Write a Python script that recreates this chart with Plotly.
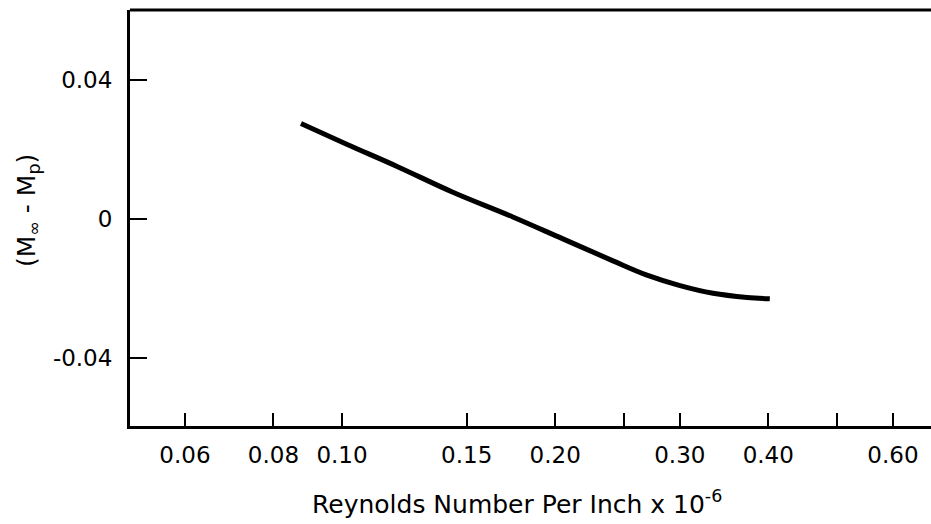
import plotly.graph_objects as go

# Data
re_per_inch = [0.0875, 0.1017, 0.1196, 0.1434, 0.1743, 0.2051, 0.2414, 0.2696, 0.3002, 0.3342, 0.3733, 0.402]
dmach = [0.0274, 0.0214, 0.0151, 0.0077, 0.0006, -0.0057, -0.0120, -0.0161, -0.0191, -0.0213, -0.0225, -0.0229]

x_tickvals = [0.06, 0.08, 0.10, 0.15, 0.20, 0.30, 0.40, 0.60]
x_ticktext = ["0.06", "0.08", "0.10", "0.15", "0.20", "0.30", "0.40", "0.60"]
x_unlabeled_ticks = [0.25, 0.50]
y_tickvals = [0.04, 0.0, -0.04]
y_ticktext = ["0.04", "0", "-0.04"]

FONT = "DejaVu Sans, Liberation Sans, sans-serif"

fig = go.Figure()
fig.add_trace(go.Scatter(
    x=re_per_inch, y=dmach, mode="lines",
    line=dict(color="black", width=5, shape="spline", smoothing=1.0),
    showlegend=False, hoverinfo="skip",
))

fig.update_layout(
    width=931, height=524,
    margin=dict(l=130, r=0, t=10, b=98),
    paper_bgcolor="white", plot_bgcolor="white",
    font=dict(family=FONT, color="black", size=22),
    xaxis=dict(
        type="log", range=[-1.2995, -0.1681],
        tickmode="array", tickvals=x_tickvals, ticktext=x_ticktext,
        ticks="inside", ticklen=13, tickwidth=2, tickcolor="black",
        minor=dict(tickmode="array", tickvals=x_unlabeled_ticks, ticks="inside",
                   ticklen=13, tickwidth=2, tickcolor="black", showgrid=False),
        showline=True, linecolor="black", linewidth=3,
        showgrid=False, zeroline=False,
        ticklabelstandoff=6,
        tickfont=dict(size=23, family=FONT),
    ),
    yaxis=dict(
        range=[-0.0594, 0.06],
        tickmode="array", tickvals=y_tickvals, ticktext=y_ticktext,
        ticks="inside", ticklen=17, tickwidth=2, tickcolor="black",
        showline=True, linecolor="black", linewidth=3,
        showgrid=False, zeroline=False,
        ticklabelstandoff=10,
        tickfont=dict(size=23, family=FONT),
    ),
    shapes=[dict(type="line", xref="paper", yref="paper", x0=0, x1=1, y0=1, y1=1,
                 line=dict(color="black", width=3))],
    annotations=[
        dict(text="Reynolds Number Per Inch x 10<sup>-6</sup>", xref="paper", yref="paper",
             x=(517 - 130) / 801, y=-(503 - 426) / 416, xanchor="center", yanchor="middle",
             showarrow=False, font=dict(size=25, family=FONT)),
        dict(text="(M<sub>∞</sub> - M<sub>p</sub>)", xref="paper", yref="paper",
             x=-(130 - 28) / 801, y=(426 - 211) / 416, xanchor="center", yanchor="middle",
             textangle=-90, showarrow=False, font=dict(size=25, family=FONT)),
    ],
)

fig.write_html("out.html")
